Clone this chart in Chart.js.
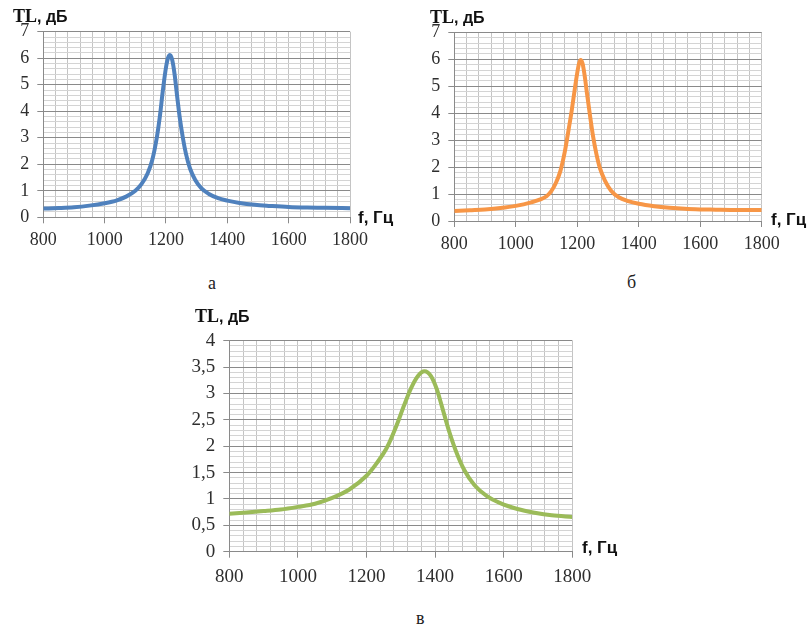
<!DOCTYPE html>
<html>
<head>
<meta charset="utf-8">
<script src="https://cdn.jsdelivr.net/npm/chart.js@4"></script>
<style>
  html, body { margin: 0; padding: 0; background: #ffffff; }
  body { width: 809px; height: 632px; position: relative; overflow: hidden; }
  canvas { position: absolute; }
  .ttl { position: absolute; white-space: nowrap; color: #111; font-weight: bold; line-height: 1; }
  .ser { font-family: "Liberation Serif", "Times New Roman", serif; }
  .san { font-family: "Liberation Sans", Arial, sans-serif; }
  .cap { position: absolute; font-family: "Liberation Serif", serif; font-size: 18px; color: #222; line-height: 1; }
</style>
</head>
<body>
<canvas id="ca" width="404" height="262" style="left:0px;top:0px"></canvas>
<canvas id="cb" width="404" height="262" style="left:405px;top:0px"></canvas>
<canvas id="cc" width="450" height="300" style="left:180px;top:300px"></canvas>

<div class="ttl" style="left:13px;top:7px"><span class="ser" style="font-size:18px">TL</span><span class="san" style="font-size:16px">, дБ</span></div>
<div class="ttl san" style="left:358px;top:209px;font-size:17px">f, Гц</div>
<div class="cap" style="left:208px;top:274px">а</div>

<div class="ttl" style="left:430px;top:8px"><span class="ser" style="font-size:18px">TL</span><span class="san" style="font-size:16px">, дБ</span></div>
<div class="ttl san" style="left:771px;top:211px;font-size:17px">f, Гц</div>
<div class="cap" style="left:627px;top:273px">б</div>

<div class="ttl" style="left:195px;top:307px"><span class="ser" style="font-size:18px">TL</span><span class="san" style="font-size:16px">, дБ</span></div>
<div class="ttl san" style="left:582px;top:539px;font-size:17px">f, Гц</div>
<div class="cap" style="left:416px;top:609px">в</div>

<script>
// ---- data ----
const freqA = [800, 850, 900, 950, 1000, 1040, 1070, 1100, 1120, 1140, 1155, 1170, 1180, 1190, 1200, 1207, 1213, 1220, 1228, 1236, 1245, 1255, 1265, 1278, 1295, 1315, 1340, 1370, 1400, 1440, 1490, 1540, 1600, 1660, 1720, 1800];
const tlA   = [0.33, 0.35, 0.38, 0.44, 0.53, 0.64, 0.78, 1.00, 1.25, 1.65, 2.15, 3.00, 3.80, 4.80, 5.65, 6.02, 6.12, 5.95, 5.40, 4.60, 3.75, 3.00, 2.40, 1.85, 1.42, 1.10, 0.88, 0.72, 0.63, 0.54, 0.47, 0.43, 0.39, 0.37, 0.36, 0.34];

const freqB = [800, 850, 900, 950, 1000, 1050, 1080, 1100, 1115, 1130, 1145, 1160, 1172, 1182, 1192, 1200, 1206, 1211, 1217, 1224, 1232, 1241, 1252, 1262, 1274, 1290, 1310, 1335, 1365, 1400, 1450, 1500, 1550, 1600, 1650, 1700, 1750, 1800];
const tlB   = [0.37, 0.40, 0.43, 0.48, 0.56, 0.69, 0.80, 0.92, 1.10, 1.40, 1.85, 2.60, 3.40, 4.10, 4.90, 5.50, 5.85, 5.97, 5.85, 5.40, 4.70, 3.95, 3.10, 2.50, 1.95, 1.50, 1.12, 0.88, 0.74, 0.64, 0.55, 0.49, 0.45, 0.43, 0.42, 0.41, 0.41, 0.41];

const freqC = [800, 850, 900, 950, 1000, 1050, 1100, 1150, 1200, 1230, 1260, 1285, 1310, 1330, 1350, 1369, 1388, 1405, 1420, 1440, 1460, 1485, 1515, 1550, 1590, 1640, 1690, 1740, 1800];
const tlC   = [0.72, 0.745, 0.77, 0.80, 0.85, 0.91, 1.02, 1.18, 1.44, 1.68, 1.98, 2.35, 2.78, 3.10, 3.33, 3.42, 3.33, 3.08, 2.75, 2.30, 1.92, 1.55, 1.26, 1.06, 0.92, 0.81, 0.74, 0.69, 0.66];

const xTickLabels   = ['800', '1000', '1200', '1400', '1600', '1800'];
const yTickLabelsAB = ['0', '1', '2', '3', '4', '5', '6', '7'];
const yTickLabelsC  = ['0', '0,5', '1', '1,5', '2', '2,5', '3', '3,5', '4'];

// ---- styling ----
const MAJOR = '#8a8a8a', MINOR = '#d4d4d4', VERT = '#c4c4c4', TXT = '#2e2e2e';
const SERIF = "'Liberation Serif', 'Times New Roman', serif";
Chart.defaults.font.family = SERIF;
const near = (v, s) => Math.abs(v / s - Math.round(v / s)) < 1e-6;

function makeChart(id, freq, tl, color, cfg) {
  const xMajor = 200;
  const ctx = document.getElementById(id);
  return new Chart(ctx, {
    type: 'line',
    data: {
      datasets: [{
        data: freq.map((f, i) => ({ x: f, y: tl[i] })),
        borderColor: color,
        borderWidth: 4,
        pointRadius: 0,
        fill: false,
        tension: 0.4,
        cubicInterpolationMode: 'monotone'
      }]
    },
    options: {
      responsive: false,
      animation: false,
      events: [],
      layout: { padding: { left: 0, top: cfg.top, right: cfg.right, bottom: 0 } },
      plugins: { legend: { display: false }, tooltip: { enabled: false } },
      scales: {
        x: {
          type: 'linear',
          min: 800, max: 1800,
          afterFit: s => { s.height = cfg.xh; },
          border: { display: true, color: MAJOR, width: 1 },
          grid: {
            color: VERT,
            lineWidth: 1,
            drawTicks: true,
            tickLength: 6,
            tickColor: c => (c.tick && near(c.tick.value, xMajor)) ? MAJOR : 'rgba(0,0,0,0)'
          },
          ticks: {
            stepSize: 40,
            autoSkip: false,
            maxRotation: 0,
            padding: cfg.xpad,
            color: TXT,
            font: { family: SERIF, size: cfg.fs },
            callback: v => near(v, xMajor) ? xTickLabels[Math.round((v - 800) / xMajor)] : ''
          }
        },
        y: {
          type: 'linear',
          min: 0, max: cfg.ymax,
          afterFit: s => { s.width = cfg.yw; },
          border: { display: true, color: MAJOR, width: 1 },
          grid: {
            color: c => (c.tick && near(c.tick.value, cfg.ymajor)) ? MAJOR : MINOR,
            lineWidth: 1,
            drawTicks: true,
            tickLength: 6,
            tickColor: c => (c.tick && near(c.tick.value, cfg.ymajor)) ? MAJOR : 'rgba(0,0,0,0)'
          },
          ticks: {
            stepSize: cfg.ystep,
            autoSkip: false,
            padding: cfg.ypad,
            color: TXT,
            font: { family: SERIF, size: cfg.fs },
            callback: v => near(v, cfg.ymajor) ? cfg.ylabels[Math.round(v / cfg.ymajor)] : ''
          }
        }
      }
    }
  });
}

makeChart('ca', freqA, tlA, '#4f81bd', { top: 31.7, right: 54, xh: 262 - 217.3, yw: 43.3, ymax: 7, ystep: 0.2, ymajor: 1, ylabels: yTickLabelsAB, fs: 18, xpad: 6, ypad: 8 });
makeChart('cb', freqB, tlB, '#f79646', { top: 32.3, right: 47.3, xh: 262 - 221, yw: 49.3, ymax: 7, ystep: 0.2, ymajor: 1, ylabels: yTickLabelsAB, fs: 18, xpad: 6, ypad: 8 });
makeChart('cc', freqC, tlC, '#9bbb59', { top: 40.7, right: 57.7, xh: 300 - 251.7, yw: 49.3, ymax: 4, ystep: 0.1, ymajor: 0.5, ylabels: yTickLabelsC, fs: 19, xpad: 8, ypad: 8 });
</script>
</body>
</html>
